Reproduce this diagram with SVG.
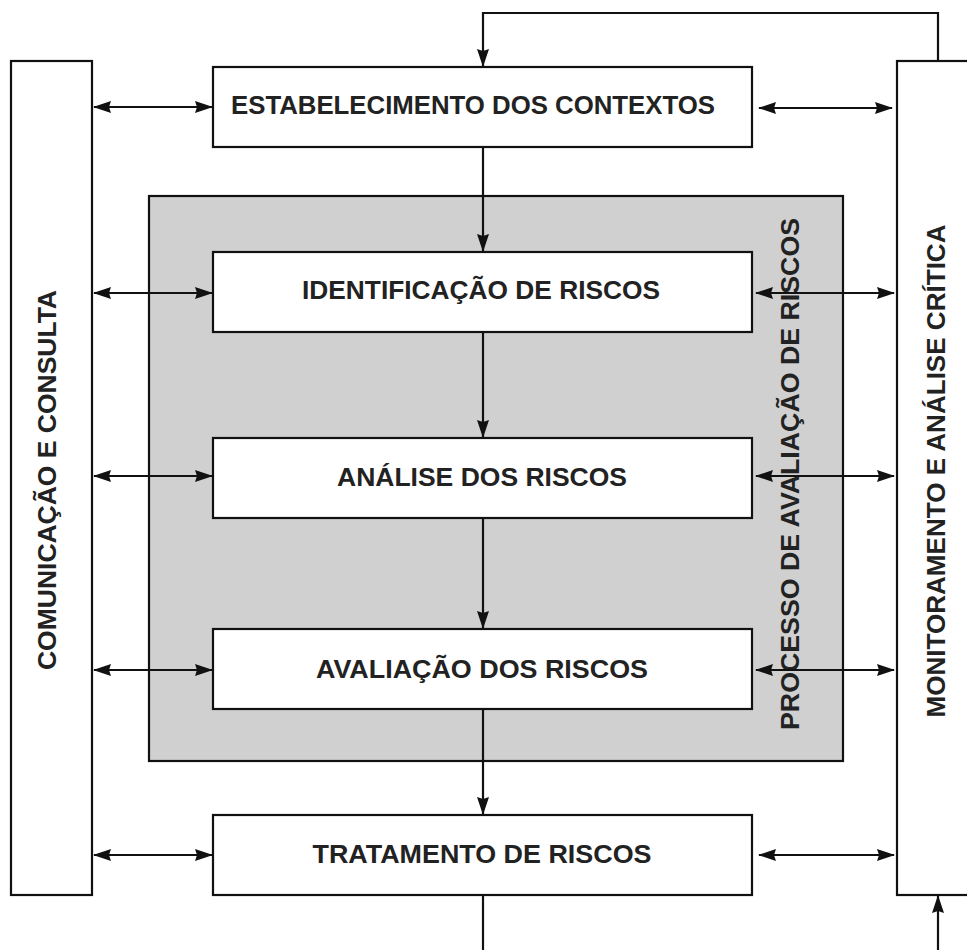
<svg xmlns="http://www.w3.org/2000/svg" width="967" height="950" viewBox="0 0 967 950">
<style>
.box{fill:#fff;stroke:#111;stroke-width:2.2}
.grp{fill:#d0d0d0;stroke:#111;stroke-width:2.2}
.t{font-family:"Liberation Sans",Arial,sans-serif;font-weight:bold;font-size:25px;fill:#222;text-anchor:middle}
.c{fill:none;stroke:#111;stroke-width:2.2}
</style>
<defs>
<marker id="ah" markerUnits="userSpaceOnUse" markerWidth="18" markerHeight="14" refX="17" refY="7" orient="auto-start-reverse" viewBox="0 0 18 14">
<path d="M0,1 L18,7 L0,13 L2,7 z" fill="#111"/>
</marker>
</defs>
<rect width="967" height="950" fill="#fff"/>

<g id="comunicacao">
<rect class="box" x="11" y="61" width="81" height="834"/>
<text class="t" transform="translate(56,480) rotate(-90)" textLength="380" lengthAdjust="spacingAndGlyphs">COMUNICAÇÃO E CONSULTA</text>
</g>
<g id="monitoramento">
<rect class="box" x="897" y="61" width="100" height="834"/>
<text class="t" transform="translate(945,471) rotate(-90)" textLength="493" lengthAdjust="spacingAndGlyphs">MONITORAMENTO E ANÁLISE CRÍTICA</text>
</g>
<g id="processo">
<rect class="grp" x="149" y="196" width="694" height="565"/>
</g>
<g id="estabelecimento">
<rect class="box" x="213" y="67" width="539" height="80"/>
<text class="t" x="473" y="114" textLength="484" lengthAdjust="spacingAndGlyphs">ESTABELECIMENTO DOS CONTEXTOS</text>
</g>
<g id="identificacao">
<rect class="box" x="213" y="252" width="539" height="80"/>
<text class="t" x="481" y="299" textLength="358" lengthAdjust="spacingAndGlyphs">IDENTIFICAÇÃO DE RISCOS</text>
</g>
<g id="analise">
<rect class="box" x="213" y="438" width="539" height="80"/>
<text class="t" x="482" y="486" textLength="290" lengthAdjust="spacingAndGlyphs">ANÁLISE DOS RISCOS</text>
</g>
<g id="avaliacao">
<rect class="box" x="213" y="629" width="539" height="80"/>
<text class="t" x="482" y="678" textLength="332" lengthAdjust="spacingAndGlyphs">AVALIAÇÃO DOS RISCOS</text>
</g>
<g id="tratamento">
<rect class="box" x="213" y="815" width="539" height="80"/>
<text class="t" x="482" y="863" textLength="339" lengthAdjust="spacingAndGlyphs">TRATAMENTO DE RISCOS</text>
</g>
<g id="processo-label">
<text class="t" transform="translate(799,474) rotate(-90)" textLength="512" lengthAdjust="spacingAndGlyphs">PROCESSO DE AVALIAÇÃO DE RISCOS</text>
</g>

<g id="connectors">
<path class="c" d="M938,61 V13 H483 V66" marker-end="url(#ah)"/>
<path class="c" d="M483,147 V251" marker-end="url(#ah)"/>
<path class="c" d="M483,332 V437" marker-end="url(#ah)"/>
<path class="c" d="M483,518 V628" marker-end="url(#ah)"/>
<path class="c" d="M483,709 V814" marker-end="url(#ah)"/>
<path class="c" d="M483,895 V950"/>
<path class="c" d="M938,950 V896" marker-end="url(#ah)"/>

<path class="c" d="M94,107 H212" marker-start="url(#ah)" marker-end="url(#ah)"/>
<path class="c" d="M94,293 H212" marker-start="url(#ah)" marker-end="url(#ah)"/>
<path class="c" d="M94,476 H212" marker-start="url(#ah)" marker-end="url(#ah)"/>
<path class="c" d="M94,670 H212" marker-start="url(#ah)" marker-end="url(#ah)"/>
<path class="c" d="M94,855 H212" marker-start="url(#ah)" marker-end="url(#ah)"/>

<path class="c" d="M759,108 H892" marker-start="url(#ah)" marker-end="url(#ah)"/>
<path class="c" d="M756,293 H894" marker-start="url(#ah)" marker-end="url(#ah)"/>
<path class="c" d="M756,476 H894" marker-start="url(#ah)" marker-end="url(#ah)"/>
<path class="c" d="M756,670 H894" marker-start="url(#ah)" marker-end="url(#ah)"/>
<path class="c" d="M759,855 H894" marker-start="url(#ah)" marker-end="url(#ah)"/>
</g>
</svg>
